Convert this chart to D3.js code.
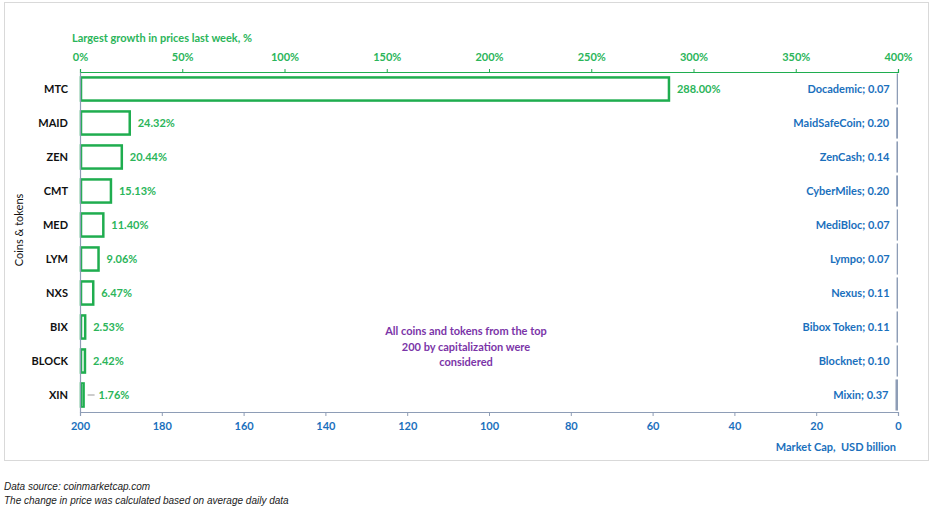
<!DOCTYPE html>
<html>
<head>
<meta charset="utf-8">
<script src="https://cdn.jsdelivr.net/npm/d3@7"></script>
<style>
  body { margin: 0; background: #fff; }
  svg { display: block; }
  text { white-space: pre; }
</style>
</head>
<body>
<svg id="chart" width="934" height="518"></svg>
<script>
// data
const coins = ["MTC", "MAID", "ZEN", "CMT", "MED", "LYM", "NXS", "BIX", "BLOCK", "XIN"];
const names = ["Docademic", "MaidSafeCoin", "ZenCash", "CyberMiles", "MediBloc", "Lympo", "Nexus", "Bibox Token", "Blocknet", "Mixin"];
const growth = [288.00, 24.32, 20.44, 15.13, 11.40, 9.06, 6.47, 2.53, 2.42, 1.76];
const marketCap = [0.07, 0.20, 0.14, 0.20, 0.07, 0.07, 0.11, 0.11, 0.10, 0.37];
const growthTicks = [0, 50, 100, 150, 200, 250, 300, 350, 400];
const capTicks = [200, 180, 160, 140, 120, 100, 80, 60, 40, 20, 0];
const note = ["All coins and tokens from the top", "200 by capitalization were", "considered"];
const footnotes = ["Data source: coinmarketcap.com", "The change in price was calculated based on average daily data"];

const green = "#1fad4f";
const greenText = "#2bb55a";
const blue = "#1a70bd";
const axisGray = "#8e9db6";
const font = "Lato, 'Open Sans', sans-serif";

const svg = d3.select("#chart");
const plotLeft = 80, plotRight = 898, plotTop = 72, plotBottom = 412;

// outer frame
svg.append("rect")
    .attr("x", 4.5).attr("y", 2.5)
    .attr("width", 924).attr("height", 458)
    .attr("fill", "none")
    .attr("stroke", "#d9d9d9");

const y = d3.scaleBand().domain(coins).range([plotTop, plotBottom]).paddingInner(0.32).paddingOuter(0.16);
const xg = d3.scaleLinear().domain([0, 400]).range([plotLeft, plotRight]);
const xc = d3.scaleLinear().domain([200, 0]).range([plotLeft, plotRight]);

// market cap bars (reversed axis, anchored at 0 on the right)
svg.selectAll(".cap")
    .data(marketCap)
    .enter()
    .append("rect")
    .attr("class", "cap")
    .attr("x", d => xc(d) - 1)
    .attr("y", (d, i) => y(coins[i]) - 4)
    .attr("width", d => xc(0) - xc(d) + 1)
    .attr("height", y.bandwidth() + 8)
    .attr("fill", axisGray);

// growth bars
svg.selectAll(".growth")
    .data(growth)
    .enter()
    .append("rect")
    .attr("class", "growth")
    .attr("x", xg(0) + 1)
    .attr("y", (d, i) => y(coins[i]))
    .attr("width", d => Math.max(xg(d) - xg(0) - 1, 1.5))
    .attr("height", y.bandwidth())
    .attr("fill", "#fff")
    .attr("stroke", green)
    .attr("stroke-width", 2.5);

// growth labels
svg.selectAll(".glabel")
    .data(growth)
    .enter()
    .append("text")
    .attr("x", (d, i) => xg(d) + (i === coins.length - 1 ? 15 : 8))
    .attr("y", (d, i) => y(coins[i]) + y.bandwidth() / 2 + 4)
    .attr("font-family", font)
    .attr("font-size", 11)
    .attr("font-weight", "bold")
    .attr("fill", greenText)
    .text(d => d.toFixed(2) + "%");

// leader line for the smallest bar
const last = coins.length - 1;
svg.append("line")
    .attr("x1", xg(growth[last]) + 4).attr("x2", xg(growth[last]) + 11)
    .attr("y1", y(coins[last]) + y.bandwidth() / 2)
    .attr("y2", y(coins[last]) + y.bandwidth() / 2)
    .attr("stroke", "#999").attr("stroke-width", 1);

// market cap labels
svg.selectAll(".clabel")
    .data(marketCap)
    .enter()
    .append("text")
    .attr("x", d => xc(d) - 8)
    .attr("y", (d, i) => y(coins[i]) + y.bandwidth() / 2 + 4)
    .attr("text-anchor", "end")
    .attr("font-family", font)
    .attr("font-size", 11)
    .attr("font-weight", "bold")
    .attr("fill", blue)
    .text((d, i) => names[i] + "; " + d.toFixed(2));

// top axis
const topAxis = svg.append("g")
    .attr("transform", `translate(0,${plotTop})`)
    .call(d3.axisTop(xg).tickValues(growthTicks).tickSize(3).tickPadding(8).tickFormat(d => d + "%"));
topAxis.select(".domain").attr("stroke", green).attr("stroke-width", 1.2);
topAxis.selectAll(".tick line").attr("stroke", green);
topAxis.selectAll(".tick text")
    .attr("fill", greenText)
    .attr("font-family", font)
    .attr("font-size", 11)
    .attr("font-weight", "bold");

svg.append("text")
    .attr("x", 72).attr("y", 42)
    .attr("font-family", font)
    .attr("font-size", 11)
    .attr("font-weight", "bold")
    .attr("fill", greenText)
    .text("Largest growth in prices last week, %");

// bottom axis
const bottomAxis = svg.append("g")
    .attr("transform", `translate(0,${plotBottom})`)
    .call(d3.axisBottom(xc).tickValues(capTicks).tickSize(4).tickPadding(6));
bottomAxis.select(".domain").attr("stroke", axisGray).attr("stroke-width", 1.2);
bottomAxis.selectAll(".tick line").attr("stroke", axisGray);
bottomAxis.selectAll(".tick text")
    .attr("fill", blue)
    .attr("font-family", font)
    .attr("font-size", 11)
    .attr("font-weight", "bold");

svg.append("text")
    .attr("x", 896).attr("y", 451)
    .attr("text-anchor", "end")
    .attr("font-family", font)
    .attr("font-size", 11)
    .attr("font-weight", "bold")
    .attr("fill", blue)
    .text("Market Cap,  USD billion");

// left axis
const leftAxis = svg.append("g")
    .attr("transform", `translate(${plotLeft},0)`)
    .call(d3.axisLeft(y).tickSize(0).tickPadding(12));
leftAxis.select(".domain").attr("stroke", axisGray).attr("stroke-width", 1.2);
leftAxis.selectAll(".tick text")
    .attr("fill", "#111")
    .attr("font-family", font)
    .attr("font-size", 11)
    .attr("font-weight", "bold");

svg.append("text")
    .attr("transform", `translate(23,${(plotTop + plotBottom) / 2 - 12}) rotate(-90)`)
    .attr("text-anchor", "middle")
    .attr("font-family", font)
    .attr("font-size", 11)
    .attr("fill", "#111")
    .text("Coins & tokens");

// note
svg.append("g").selectAll("text")
    .data(note)
    .enter()
    .append("text")
    .attr("x", 466)
    .attr("y", (d, i) => 335 + i * 15.5)
    .attr("text-anchor", "middle")
    .attr("font-family", font)
    .attr("font-size", 11)
    .attr("font-weight", "bold")
    .attr("fill", "#7b35a8")
    .text(d => d);

// footnotes
svg.append("g").selectAll("text")
    .data(footnotes)
    .enter()
    .append("text")
    .attr("x", 4)
    .attr("y", (d, i) => 490 + i * 14)
    .attr("font-family", "'Liberation Sans', Arial, sans-serif")
    .attr("font-size", 10)
    .attr("font-style", "italic")
    .attr("fill", "#222")
    .text(d => d);
</script>
</body>
</html>
